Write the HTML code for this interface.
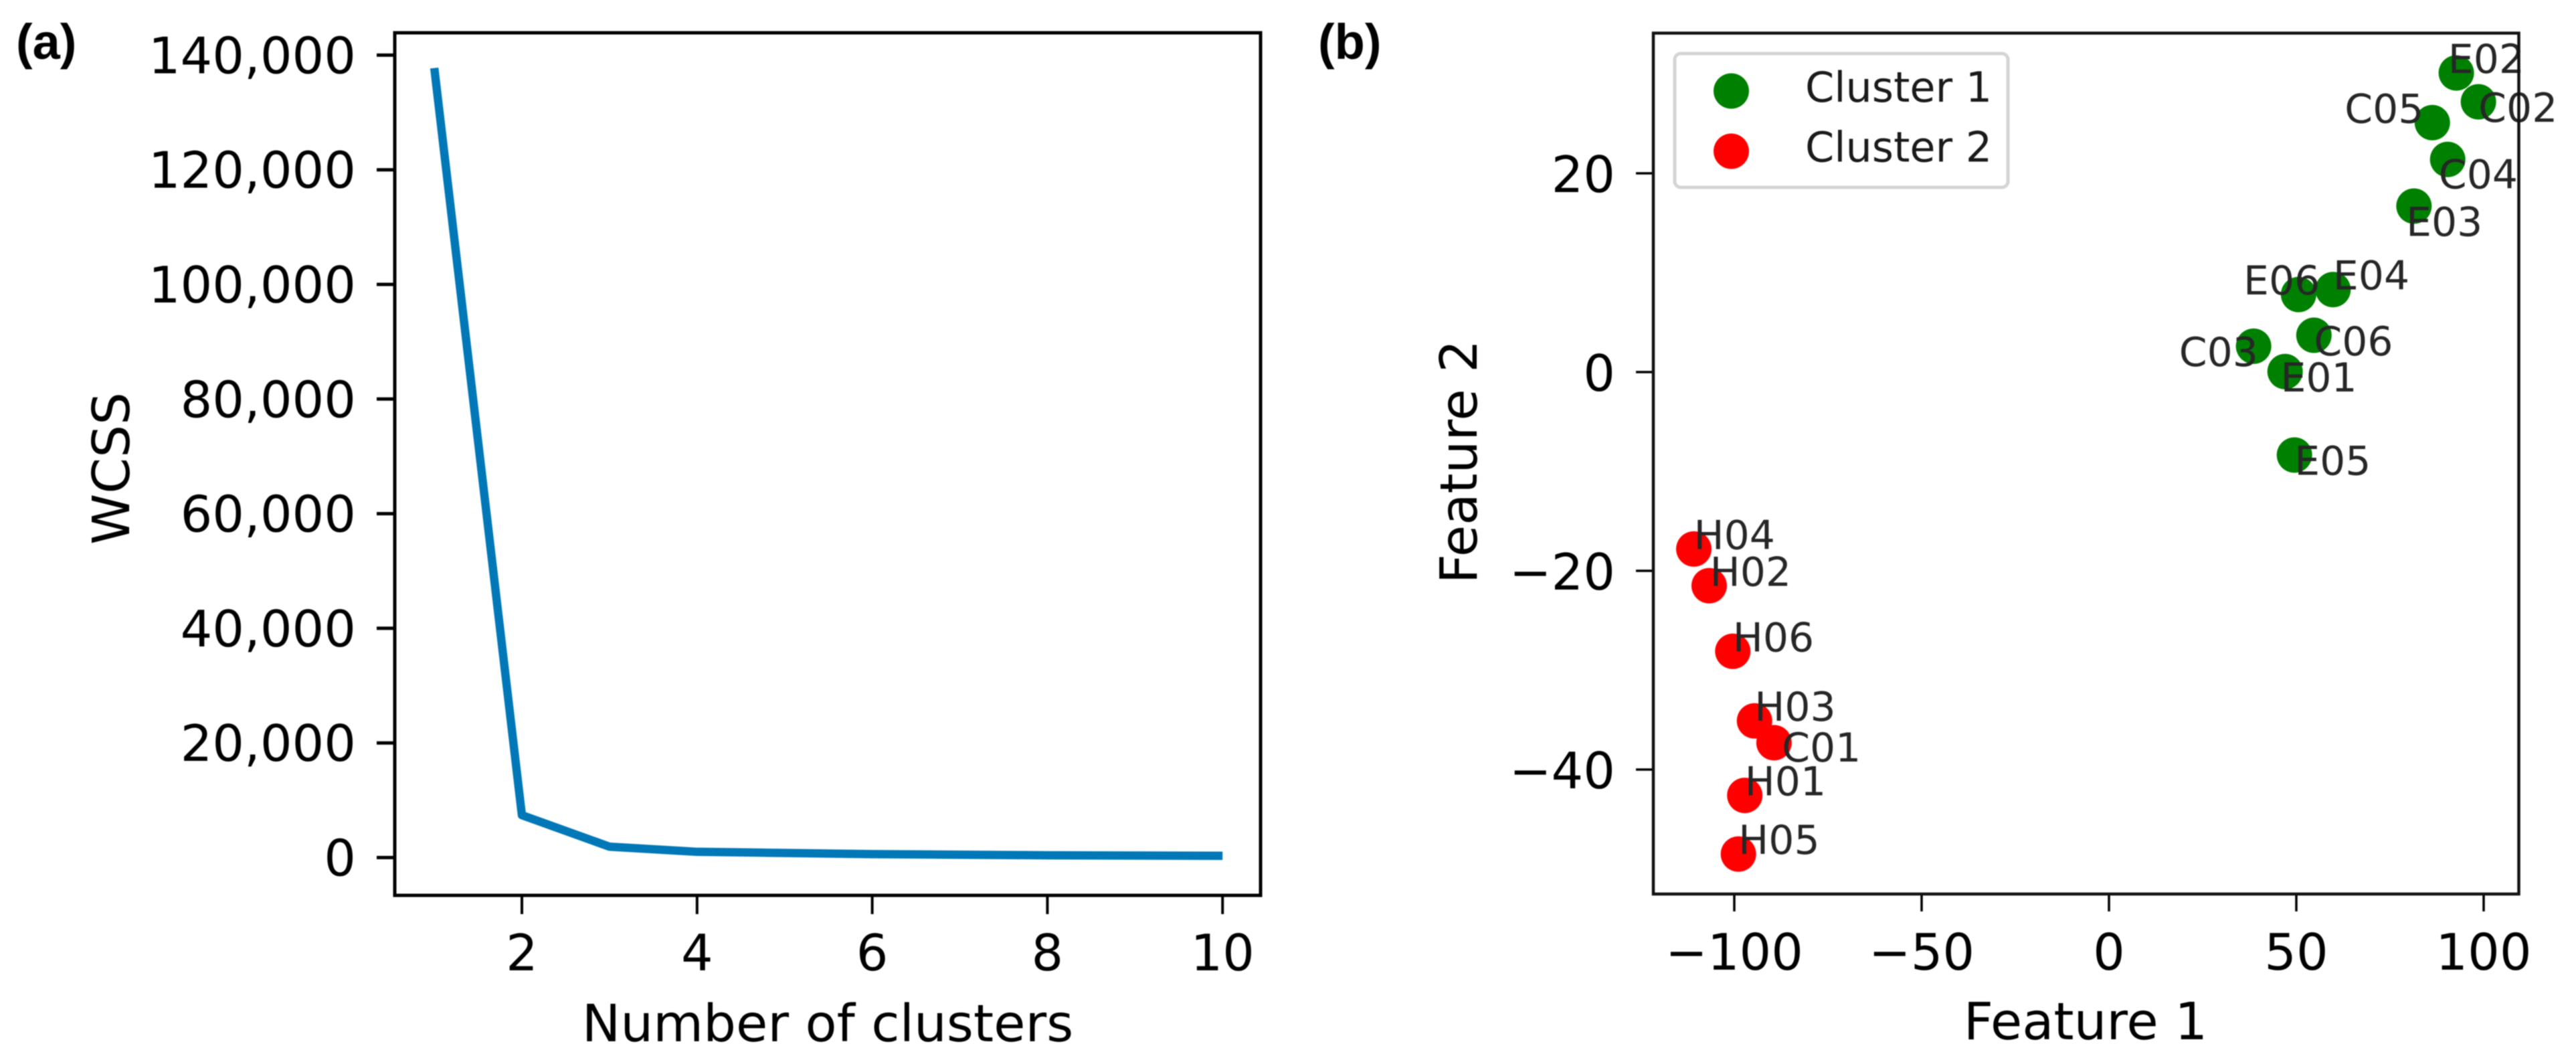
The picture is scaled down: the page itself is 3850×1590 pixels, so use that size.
<!DOCTYPE html>
<html>
<head>
<meta charset="utf-8">
<title>Elbow curve and cluster scatter</title>
<style>
html,body{margin:0;padding:0;background:#fff;width:3850px;height:1590px;overflow:hidden}
svg{display:block;filter:blur(0.8px)}
text{font-family:"DejaVu Sans","Liberation Sans",sans-serif;fill:#000}
.panel-tag{font-family:"Liberation Sans",sans-serif;font-weight:bold;font-size:74px}
.tick{font-size:75px}
.axis{font-size:77px}
.pt{font-size:60px;fill:#262626}
.leg{font-size:62px;fill:#1a1a1a}
</style>
</head>
<body>
<svg id="fig" xmlns="http://www.w3.org/2000/svg" width="3850" height="1590" viewBox="0 0 3850 1590">
  <rect x="0" y="0" width="3850" height="1590" fill="#fff"/>
  <text class="panel-tag" x="24" y="88">(a)</text>
  <text class="panel-tag" x="1970" y="88">(b)</text>
  <g id="panelA"></g>
  <g id="panelB"></g>
</svg>
<script>
// Panel (a) data
const clusterCounts = [1, 2, 3, 4, 5, 6, 7, 8, 9, 10];
const wcssValues = [137750, 7400, 1900, 1000, 800, 600, 500, 400, 350, 300];
const wcssXTicks = [2, 4, 6, 8, 10];
const wcssYTicks = [0, 20000, 40000, 60000, 80000, 100000, 120000, 140000];

// Panel (b) data
const cluster1Names = ['E02', 'C02', 'C05', 'C04', 'E03', 'E04', 'E06', 'C06', 'C03', 'E01', 'E05'];
const cluster1Feature1 = [92.7, 98.6, 86.3, 90.4, 81.4, 59.8, 50.6, 54.7, 38.6, 47.0, 49.5];
const cluster1Feature2 = [30.1, 27.2, 25.1, 21.4, 16.7, 8.3, 7.8, 3.7, 2.6, 0.05, -8.35];
const cluster2Names = ['H04', 'H02', 'H06', 'H03', 'C01', 'H01', 'H05'];
const cluster2Feature1 = [-110.8, -106.7, -100.4, -94.6, -89.4, -97.2, -98.9];
const cluster2Feature2 = [-17.8, -21.5, -28.1, -35.1, -37.3, -42.6, -48.5];
const scatterXTicks = [-100, -50, 0, 50, 100];
const scatterYTicks = [-40, -20, 0, 20];
const legendNames = ['Cluster 1', 'Cluster 2'];
const legendColors = ['#008000', '#ff0000'];

// Annotation offsets from each marker, in feature units (as placed by the label-repel step)
const cluster1LabelDx = [-2.2, 0.0, -23.4, -2.4, -2.1, 0.0, -14.7, 0.0, -19.9, -1.2, 0.0];
const cluster1LabelDy = [0.0, -2.0, 0.0, -2.9, -3.0, 0.0, 0.0, -2.0, -2.0, -2.0, -2.0];
const cluster2LabelDx = [0.0, 0.2, 0.0, 0.0, 2.1, 0.0, 0.0];
const cluster2LabelDy = [0.0, 0.0, 0.0, 0.0, -1.9, 0.0, 0.0];

const NS = 'http://www.w3.org/2000/svg';
function make(parent, tag, attrs, txt) {
  const el = document.createElementNS(NS, tag);
  for (const k in attrs) el.setAttribute(k, attrs[k]);
  if (txt !== undefined) el.textContent = txt;
  parent.appendChild(el);
  return el;
}
const fmt = v => String(Math.abs(v)).replace(/\B(?=(\d{3})+$)/g, ',');
const signed = v => (v < 0 ? '\u2212' : '') + fmt(v);

// Axis functions
const ax = v => 780 + (v - 2) * 130.9;
const ay = v => 1281.5 - v / 20000 * 171.3;
const bx = v => 3152 + v * 5.6;
const by = v => 556 - v * 14.85;

/* ---------- Panel A ---------- */
const A = document.getElementById('panelA');

const wcssLine = make(A, 'polyline', {
  points: clusterCounts.map((k, i) => ax(k) + ',' + ay(wcssValues[i])).join(' '),
  fill: 'none', stroke: '#0077b6', 'stroke-width': 12.5, 'stroke-linejoin': 'round'
});



wcssXTicks.forEach(v => {
  const t = make(A, 'line', {x1: ax(v), x2: ax(v), y1: 1337, y2: 1366, stroke: '#000', 'stroke-width': 4});
  
  
  const l = make(A, 'text', {class: 'tick', x: ax(v), y: 1450, 'text-anchor': 'middle'}, fmt(v));
  
  
});
wcssYTicks.forEach(v => {
  const t = make(A, 'line', {x1: 563, x2: 591, y1: ay(v), y2: ay(v), stroke: '#000', 'stroke-width': 5});
  
  
  const l = make(A, 'text', {class: 'tick', x: 532, y: ay(v) + 27, 'text-anchor': 'end'}, fmt(v));
  
  
});

const aFrame = make(A, 'path', {d: 'M590 49H1884V1338H590Z', fill: 'none', stroke: '#000', 'stroke-width': 5});



const aXT = make(A, 'text', {class: 'axis', x: 1237, y: 1556, 'text-anchor': 'middle'}, 'Number of clusters');


const aYT = make(A, 'text', {class: 'axis', 'text-anchor': 'middle', transform: 'translate(193 700) rotate(-90)'}, 'WCSS');



/* ---------- Panel B ---------- */
const B = document.getElementById('panelB');

function drawCluster(names, xs, ys, dxs, dys, color, key) {
  names.forEach((n, i) => {
    const c = make(B, 'circle', {cx: bx(xs[i]), cy: by(ys[i]), r: 26.5, fill: color});
    
    
  });
  names.forEach((n, i) => {
    const l = make(B, 'text', {class: 'pt', x: bx(xs[i] + dxs[i]), y: by(ys[i] + dys[i])}, n);
    
    
  });
}
drawCluster(cluster1Names, cluster1Feature1, cluster1Feature2, cluster1LabelDx, cluster1LabelDy, legendColors[0], 'cluster-1');
drawCluster(cluster2Names, cluster2Feature1, cluster2Feature2, cluster2LabelDx, cluster2LabelDy, legendColors[1], 'cluster-2');

scatterXTicks.forEach(v => {
  const t = make(B, 'line', {x1: bx(v), x2: bx(v), y1: 1336, y2: 1362, stroke: '#000', 'stroke-width': 3.5});
  
  
  const l = make(B, 'text', {class: 'tick', x: bx(v), y: 1449, 'text-anchor': 'middle'}, signed(v));
  
  
});
scatterYTicks.forEach(v => {
  const t = make(B, 'line', {x1: 2445, x2: 2471, y1: by(v), y2: by(v), stroke: '#000', 'stroke-width': 3.5});
  
  
  const l = make(B, 'text', {class: 'tick', x: 2414, y: by(v) + 28, 'text-anchor': 'end'}, signed(v));
  
  
});

const bFrame = make(B, 'path', {d: 'M2471 49.5H3764.5V1336H2471Z', fill: 'none', stroke: '#111', 'stroke-width': 4.5});



const legend = make(B, 'g', {});


const legendBox = make(legend, 'rect', {x: 2503, y: 80, width: 498, height: 200, rx: 9, ry: 9, fill: '#fff', stroke: '#d4d4d4', 'stroke-width': 5});


legendNames.forEach((n, i) => {
  const m = make(legend, 'circle', {cx: 2587.5, cy: 136 + i * 90, r: 26.5, fill: legendColors[i]});
  
  
  const l = make(legend, 'text', {class: 'leg', x: 2698, y: 152 + i * 89.5}, n);
  
  
});

const bXT = make(B, 'text', {class: 'axis', x: 3117, y: 1553, 'text-anchor': 'middle'}, 'Feature 1');


const bYT = make(B, 'text', {class: 'axis', 'font-size': 78, 'text-anchor': 'middle', transform: 'translate(2207 690) rotate(-90)'}, 'Feature 2');


</script>
</body>
</html>
